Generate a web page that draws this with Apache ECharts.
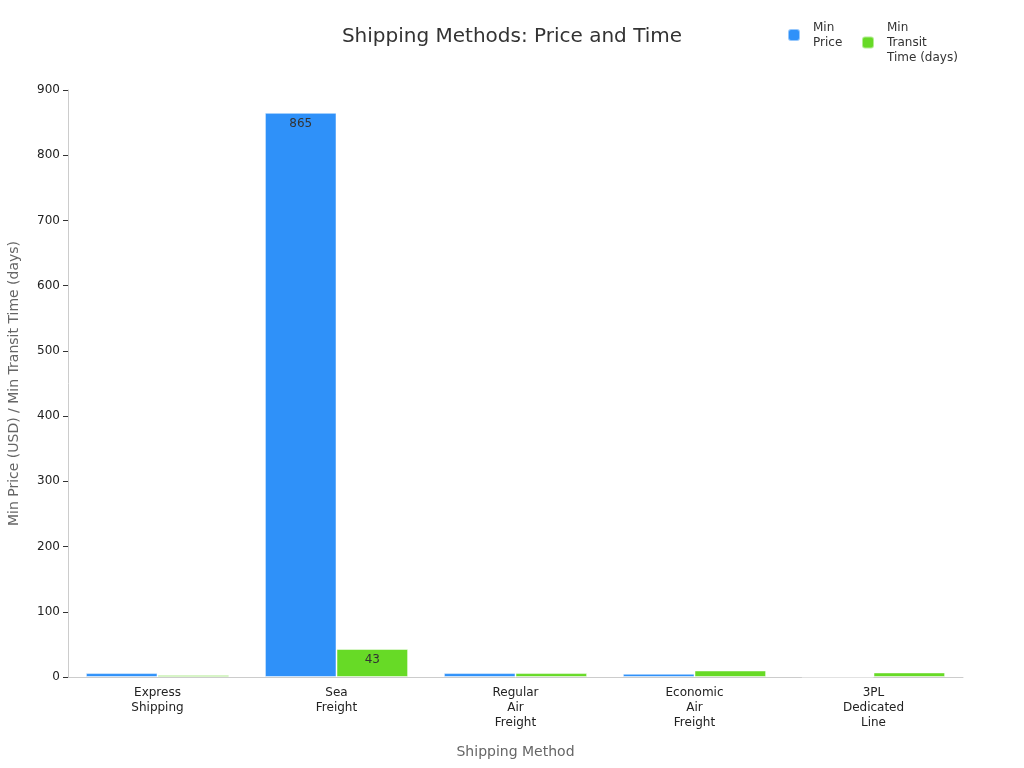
<!DOCTYPE html>
<html><head><meta charset="utf-8">
<script src="https://cdn.jsdelivr.net/npm/echarts@6/dist/echarts.min.js"></script>
<style>html,body{margin:0;padding:0;background:#fff}#c{width:1024px;height:768px}</style>
</head><body><div id="c"></div>
<script>
const categories = ["Express\nShipping", "Sea\nFreight", "Regular\nAir\nFreight", "Economic\nAir\nFreight", "3PL\nDedicated\nLine"];
const seriesNames = ['Min\nPrice', 'Min\nTransit\nTime (days)'];
const minPrice = [6, 865, 6, 5, 0];
const minTransit = [3, 43, 6, 10, 7];
const yTicks = {min: 0, max: 900, interval: 100};

const chart = echarts.init(document.getElementById('c'));
const font = 'DejaVu Sans';
const legendBase = {orient: 'horizontal', top: 15, itemWidth: 12, itemHeight: 12,
  textStyle: {fontFamily: font, fontSize: 12, color: '#333', lineHeight: 15, padding: [0, 0, 0, 8]}};
chart.setOption({
  textStyle: {fontFamily: font},
  title: {text: 'Shipping Methods: Price and Time', left: 'center', top: 22,
    textStyle: {fontFamily: font, fontSize: 20, fontWeight: 'normal', color: '#333'}},
  legend: [
    Object.assign({}, legendBase, {left: 782, data: [seriesNames[0]]}),
    Object.assign({}, legendBase, {left: 856, data: [seriesNames[1]]})
  ],
  grid: {left: 68, right: 61, top: 90, bottom: 91, outerBoundsMode: 'none'},
  xAxis: {type: 'category', data: categories,
    name: 'Shipping Method', nameLocation: 'middle', nameGap: 68,
    nameTextStyle: {fontFamily: font, fontSize: 14, color: '#666'},
    axisLine: {lineStyle: {color: '#ccc'}},
    axisTick: {alignWithLabel: true, lineStyle: {color: '#333'}},
    axisLabel: {fontFamily: font, fontSize: 12, color: '#222', lineHeight: 15, interval: 0}},
  yAxis: {type: 'value', min: yTicks.min, max: yTicks.max, interval: yTicks.interval,
    name: 'Min Price (USD) / Min Transit Time (days)', nameLocation: 'middle', nameGap: 47,
    nameTextStyle: {fontFamily: font, fontSize: 14, color: '#666'},
    axisLine: {show: true, lineStyle: {color: '#ccc'}},
    axisTick: {show: true, lineStyle: {color: '#333'}},
    splitLine: {show: false},
    axisLabel: {fontFamily: font, fontSize: 12, color: '#222'}},
  series: [
    {name: seriesNames[0], type: 'bar', data: minPrice, barGap: '0%', barCategoryGap: '20%',
      itemStyle: {color: '#2f91f9', borderColor: 'rgba(255,255,255,0.5)', borderWidth: 1},
      label: {show: true, position: 'insideTop', color: '#333', fontSize: 12, fontFamily: font,
        formatter: p => p.value >= 30 ? p.value : ''}},
    {name: seriesNames[1], type: 'bar', data: minTransit,
      itemStyle: {color: '#67da26', borderColor: 'rgba(255,255,255,0.5)', borderWidth: 1},
      label: {show: true, position: 'insideTop', color: '#333', fontSize: 12, fontFamily: font,
        formatter: p => p.value >= 30 ? p.value : ''}}
  ]
});
</script></body></html>
